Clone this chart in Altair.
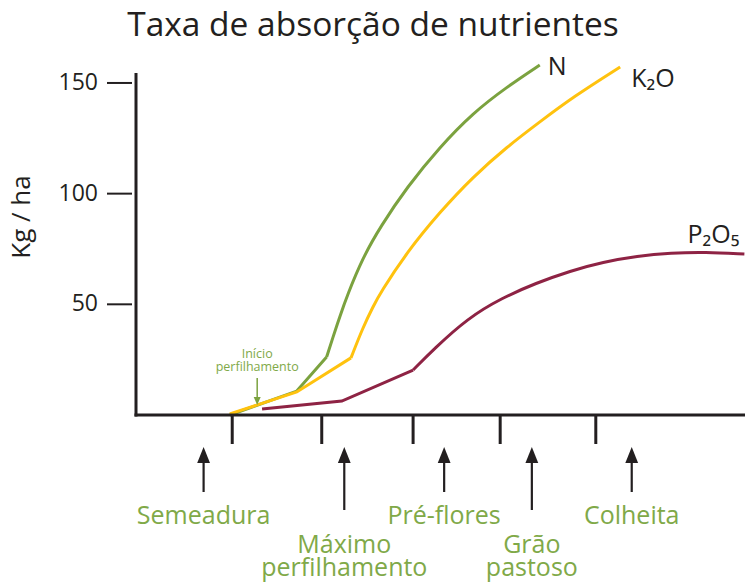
import altair as alt
import pandas as pd

# ---- data ----
title_text = "Taxa de absorção de nutrientes"
y_title = "Kg / ha"
series_names = ["N", "K₂O", "P₂O₅"]

n_x = [15.4, 26.4, 31.3, 32.35, 33.5, 34.65, 37.3, 40.1, 44.5, 49.9, 55.3, 60.9, 66.3]
n_y = [0.0, 10.8, 26.2, 35.2, 44.7, 53.8, 71.4, 84.9, 103.0, 121.1, 136.4, 148.2, 158.1]
n_kink = 2

k_x = [15.4, 26.4, 35.3, 37.3, 38.9, 40.1, 44.5, 49.9, 55.3, 60.9, 66.3, 71.8, 79.5]
k_y = [0.5, 10.4, 25.8, 39.8, 48.8, 55.1, 73.6, 91.7, 107.5, 121.1, 132.4, 143.7, 157.2]
k_kink = 2

p_x = [20.7, 33.8, 45.5, 48.9, 54.5, 60.1, 65.7, 71.3, 76.7, 82.3, 87.9, 93.4, 99.9]
p_y = [2.7, 6.3, 20.3, 29.8, 43.8, 52.9, 59.6, 65.1, 69.1, 71.8, 73.2, 73.6, 72.7]
p_kink = 2

y_ticks = [50, 100, 150]

stage_names = ["Semeadura", "Máximo\nperfilhamento", "Pré-flores", "Grão\npastoso", "Colheita"]
stage_x = [11.1, 34.2, 50.6, 65.0, 81.4]
stage_row = [1, 2, 1, 2, 1]
boundary_x = [15.8, 30.5, 45.5, 59.8, 75.5]

inicio_text = ["Início\nperfilhamento"]
inicio_x = [19.9]

# ---- styles ----
FONT = "Open Sans"
DARK = "#231F20"
GREEN = "#7BA23F"
GREEN_TXT = "#80A948"
YELLOW = "#FFC20E"
MAROON = "#8E2344"

rows = []
for s, xs_, ys_, kink in zip(series_names, [n_x, k_x, p_x], [n_y, k_y, p_y], [n_kink, k_kink, p_kink]):
    for i, (a, b) in enumerate(zip(xs_, ys_)):
        if i <= kink:
            rows.append({"series": s, "seg": "straight", "x": a, "y": b})
        if i >= kink:
            rows.append({"series": s, "seg": "curve", "x": a, "y": b})
lines_df = pd.DataFrame(rows)

xs = alt.Scale(domain=[0, 100], nice=False, zero=False)
ys = alt.Scale(domain=[0, 154.5], nice=False, zero=False)
col = alt.Color("series:N", scale=alt.Scale(domain=series_names, range=[GREEN, YELLOW, MAROON]),
                legend=None)

base_lines = alt.Chart(lines_df)
straight = base_lines.transform_filter("datum.seg == 'straight'").mark_line(
    strokeWidth=3, interpolate="linear").encode(
    x=alt.X("x:Q", scale=xs, axis=None), y=alt.Y("y:Q", scale=ys, axis=None), color=col,
    order="x:Q")
curve = base_lines.transform_filter("datum.seg == 'curve'").mark_line(
    strokeWidth=3, interpolate="basis").encode(
    x=alt.X("x:Q", scale=xs, axis=None), y=alt.Y("y:Q", scale=ys, axis=None), color=col,
    order="x:Q")

ends = base_lines.transform_joinaggregate(xmax="max(x)", groupby=["series"]).transform_filter(
    "datum.x == datum.xmax")


def series_label(name, dx, dy, align):
    return ends.transform_filter(alt.datum.series == name).mark_text(
        font=FONT, fontSize=25, color=DARK, align=align, baseline="alphabetic", dx=dx, dy=dy
    ).encode(
        x=alt.X("x:Q", scale=xs, axis=None),
        y=alt.Y("y:Q", scale=ys, axis=None),
        text="series:N",
    )


lab_n = series_label("N", 8, 10, "left")
lab_k = series_label("K₂O", 11, 20, "left")
lab_p = series_label("P₂O₅", -5, -11, "right")

one = alt.Chart(pd.DataFrame({"k": [0]}))

# axis lines
y_axis_line = one.mark_rule(color=DARK, strokeWidth=3).encode(
    x=alt.value(0), y=alt.value(0), y2=alt.value(343.5))
x_axis_line = one.mark_rule(color=DARK, strokeWidth=3).encode(
    x=alt.value(-1.5), x2=alt.value(609), y=alt.value(342))

# y ticks (detached from axis line) and labels
ytick_df = pd.DataFrame({"v": y_ticks})
yticks = alt.Chart(ytick_df).mark_rule(color=DARK, strokeWidth=2).encode(
    y=alt.Y("v:Q", scale=ys, axis=None), x=alt.value(-29), x2=alt.value(-4)
)
ylabels = alt.Chart(ytick_df).mark_text(font=FONT, fontSize=23, color=DARK, align="right",
                                        baseline="middle").encode(
    y=alt.Y("v:Q", scale=ys, axis=None), x=alt.value(-38), text="v:Q"
)
ytitle = alt.Chart(pd.DataFrame({"t": [y_title]})).mark_text(
    font=FONT, fontSize=26, color=DARK, align="center", baseline="middle", angle=270).encode(
    x=alt.value(-114), y=alt.value(144), text="t:N")

# stage boundary ticks below x axis
bnd_df = pd.DataFrame({"bx": boundary_x})
bticks = alt.Chart(bnd_df).mark_rule(color=DARK, strokeWidth=3).encode(
    x=alt.X("bx:Q", scale=xs, axis=None), y=alt.value(342), y2=alt.value(371)
)

stage_df = pd.DataFrame({"name": stage_names, "sx": stage_x, "row": stage_row})
stage = alt.Chart(stage_df)

shaft1 = stage.transform_filter("datum.row == 1").mark_rule(color=DARK, strokeWidth=2.2).encode(
    x=alt.X("sx:Q", scale=xs, axis=None), y=alt.value(389), y2=alt.value(419)
)
shaft2 = stage.transform_filter("datum.row == 2").mark_rule(color=DARK, strokeWidth=2.2).encode(
    x=alt.X("sx:Q", scale=xs, axis=None), y=alt.value(389), y2=alt.value(437)
)
heads = stage.mark_point(shape="M0,-1L0.8,1L-0.8,1Z", filled=True, size=256, color=DARK,
                         opacity=1, strokeWidth=0).encode(
    x=alt.X("sx:Q", scale=xs, axis=None), y=alt.value(382)
)
text1 = stage.transform_filter("datum.row == 1").mark_text(
    font=FONT, fontSize=25, color=GREEN_TXT, align="center", baseline="alphabetic",
    lineBreak="\n", lineHeight=23
).encode(x=alt.X("sx:Q", scale=xs, axis=None), y=alt.value(451), text="name:N")
text2 = stage.transform_filter("datum.row == 2").mark_text(
    font=FONT, fontSize=25, color=GREEN_TXT, align="center", baseline="alphabetic",
    lineBreak="\n", lineHeight=23
).encode(x=alt.X("sx:Q", scale=xs, axis=None), y=alt.value(480), text="name:N")

# "Início perfilhamento" annotation
ini_df = pd.DataFrame({"t": inicio_text, "ix": inicio_x})
ini = alt.Chart(ini_df)
ini_text = ini.mark_text(font=FONT, fontSize=12.5, color=GREEN_TXT, align="center",
                         baseline="alphabetic", lineBreak="\n", lineHeight=13).encode(
    x=alt.X("ix:Q", scale=xs, axis=None), y=alt.value(285), text="t:N")
ini_shaft = ini.mark_rule(color=GREEN, strokeWidth=1.5).encode(
    x=alt.X("ix:Q", scale=xs, axis=None), y=alt.value(305), y2=alt.value(326))
ini_head = ini.mark_point(shape="M0,1L0.875,-1L-0.875,-1Z", filled=True, size=64, color=GREEN,
                          opacity=1, strokeWidth=0).encode(
    x=alt.X("ix:Q", scale=xs, axis=None), y=alt.value(328))

# title
title_df = pd.DataFrame({"t": [title_text]})
title = alt.Chart(title_df).mark_text(font=FONT, fontSize=33.5, color=DARK, align="center",
                                      baseline="alphabetic").encode(
    x=alt.value(237), y=alt.value(-37), text="t:N")

chart = alt.layer(
    straight, curve, lab_n, lab_k, lab_p, y_axis_line, x_axis_line, yticks, ylabels, ytitle,
    bticks, shaft1, shaft2, heads, text1, text2, ini_text, ini_shaft, ini_head, title
).properties(
    width=609, height=342, autosize="none",
    padding={"left": 128, "top": 65, "right": 0, "bottom": 170},
    background="white",
).configure_view(stroke=None)

chart.save("out.html", embed_options={"renderer": "svg", "actions": False})
